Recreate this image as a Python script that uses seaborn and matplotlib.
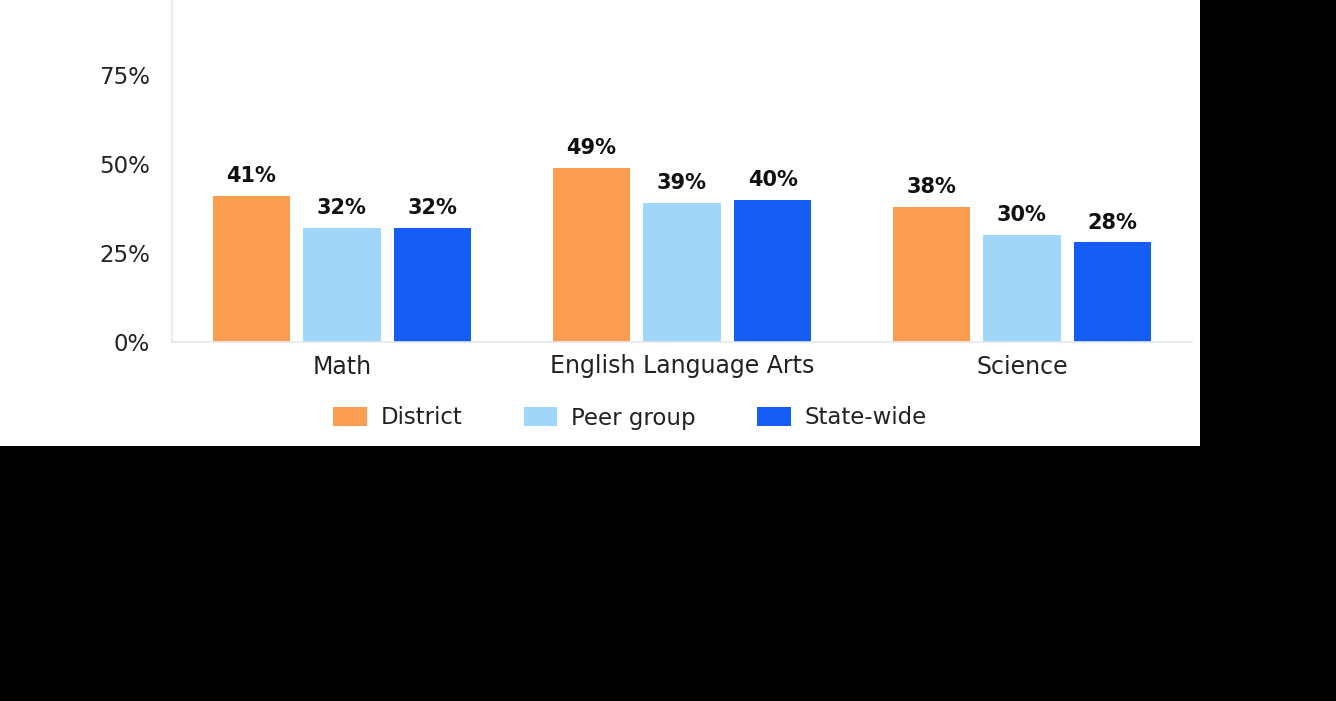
import matplotlib
matplotlib.use("Agg")
import matplotlib.pyplot as plt
import matplotlib.patches as mpatches
from matplotlib.ticker import PercentFormatter, FixedLocator
import seaborn as sns
import pandas as pd

subjects = ["Math", "English Language Arts", "Science"]
groups = ["District", "Peer group", "State-wide"]
district = [0.41, 0.49, 0.38]
peer_group = [0.32, 0.39, 0.30]
state_wide = [0.32, 0.40, 0.28]
colors = ["#FB9D50", "#A0D6F8", "#165DF5"]
y_ticks = [0, 0.25, 0.5, 0.75]

rows = []
for g, vals in zip(groups, [district, peer_group, state_wide]):
    for s, v in zip(subjects, vals):
        rows.append({"subject": s, "group": g, "value": v})
df = pd.DataFrame(rows)

sns.set_theme(style="white")
plt.rcParams["font.family"] = ["DejaVu Sans"]

W, H = 1336, 701
fig = plt.figure(figsize=(W / 100, H / 100), dpi=100, facecolor="black")
# white panel behind the chart
fig.patches.append(mpatches.Rectangle((0, 1 - 446 / H), 1200 / W, 446 / H,
                                      transform=fig.transFigure, facecolor="white",
                                      edgecolor="none", zorder=-10))

left, right = 172 / W, 1192 / W
bottom = (H - 342) / H
height = 356 / H
ax = fig.add_axes([left, bottom, right - left, height])
ax.set_facecolor("white")

sns.barplot(data=df, x="subject", y="value", hue="group", order=subjects,
            hue_order=groups, palette=colors, width=0.8, gap=0.15,
            legend=False, ax=ax, saturation=1, errorbar=None, linewidth=0)

ax.set_xlim(-0.5, 2.5)
ax.set_ylim(0, 1.0)
ax.yaxis.set_major_locator(FixedLocator(y_ticks))
ax.yaxis.set_major_formatter(PercentFormatter(1.0, decimals=0))
ax.set_xlabel("")
ax.set_ylabel("")
ax.tick_params(axis="y", length=0, pad=16, labelsize=16.5, labelcolor="#222222")
ax.tick_params(axis="x", length=0, pad=9, labelsize=17, labelcolor="#222222")

for side in ["top", "right"]:
    ax.spines[side].set_visible(False)
for side in ["left", "bottom"]:
    ax.spines[side].set_color("#E6E8EC")
    ax.spines[side].set_linewidth(1.2)

for cont in ax.containers:
    ax.bar_label(cont, labels=[f"{v * 100:.0f}%" for v in cont.datavalues],
                 padding=7, fontsize=15, fontweight="bold", color="#111111")

handles = [mpatches.Patch(facecolor=c, edgecolor="none", label=g) for g, c in zip(groups, colors)]
fig.legend(handles=handles, loc="center", bbox_to_anchor=(630 / W, 1 - 418 / H),
           ncol=3, frameon=False, fontsize=16.5, handlelength=1.45, handleheight=0.9,
           columnspacing=2.7, handletextpad=0.6, labelcolor="#222222")

fig.savefig("out.png", dpi=100, facecolor=fig.get_facecolor())
